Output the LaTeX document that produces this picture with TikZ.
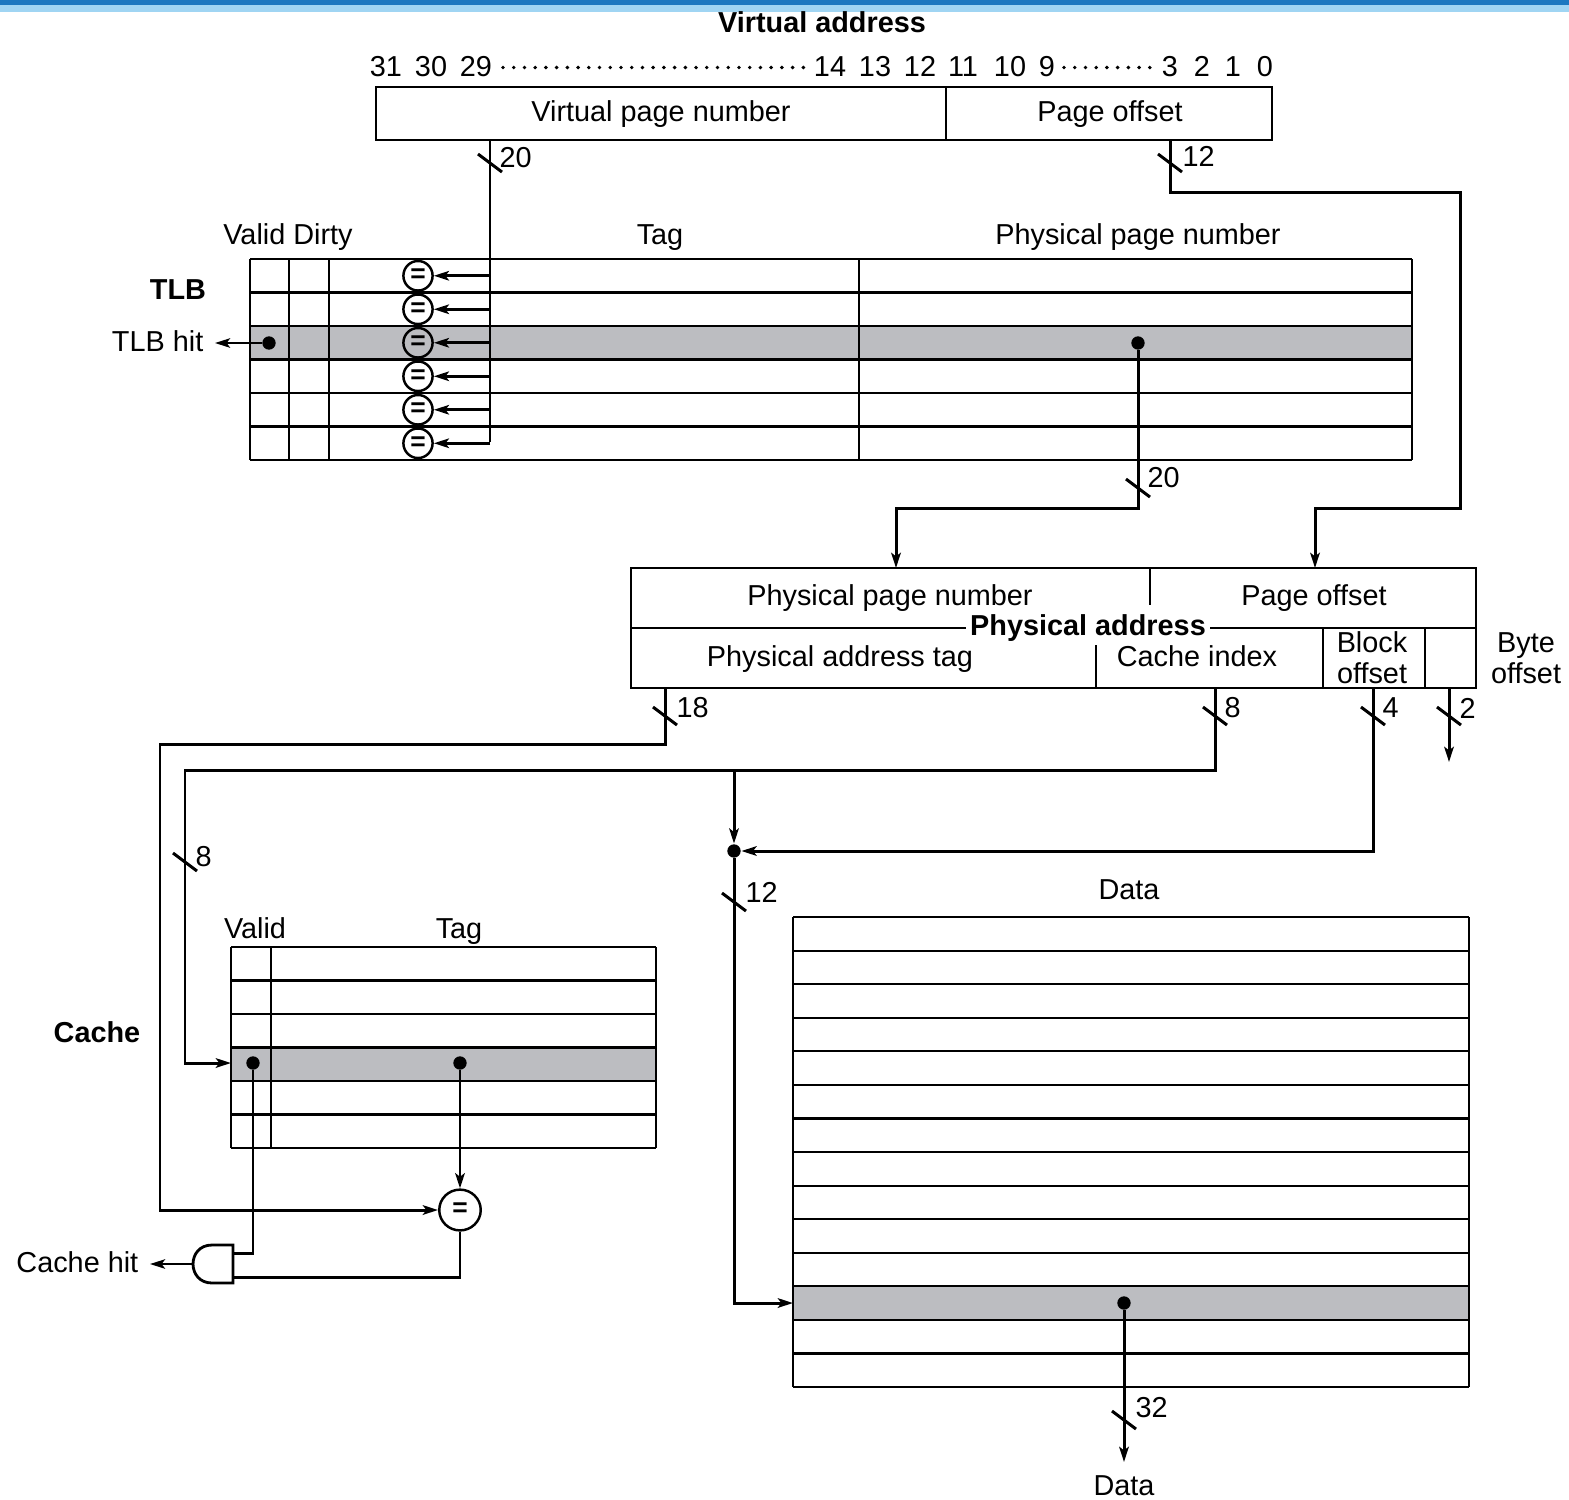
\documentclass[tikz,border=0pt]{standalone}
\usepackage{fontspec}
\setmainfont{Liberation Sans}
\usetikzlibrary{arrows.meta,calc,shapes.geometric}
\definecolor{rowgray}{RGB}{188,189,193}
\definecolor{bardark}{RGB}{28,120,192}
\definecolor{barlight}{RGB}{160,213,243}
\newcommand\lbfont{\fontsize{8.2pt}{9.8pt}\selectfont}
\newcommand\wslash[1]{\draw[wire] ($(#1)+(-12,-9)$) -- ($(#1)+(12,9)$);}
\tikzset{
  wire/.style={line width=0.85pt},
  arr/.style={wire,-{Stealth[length=4.3pt,width=2.7pt,inset=1pt]}},
  gridl/.style={line width=0.6pt},
  lbl/.style={inner sep=0pt, font=\lbfont, text height=5.9pt, text depth=0pt},
  blbl/.style={lbl, font=\lbfont\bfseries},
  dotn/.style={circle, fill, inner sep=0pt, minimum size=3.8pt},
  cmp/.style={ellipse, draw, line width=0.7pt, minimum width=8.3pt, minimum height=8.4pt, inner sep=0pt, font=\fontsize{7.5pt}{7.5pt}\selectfont\bfseries},
  bigcmp/.style={ellipse, draw, line width=0.7pt, minimum width=11.8pt, minimum height=11.6pt, inner sep=0pt, font=\fontsize{7.5pt}{7.5pt}\selectfont\bfseries},
}
\begin{document}
\begin{tikzpicture}[x=0.01cm,y=-0.01cm]
\useasboundingbox (0,0) rectangle (1569,1499);
\fill[white] (0,0) rectangle (1569,1499);
\fill[barlight] (0,0) rectangle (1569,12);
\fill[bardark] (0,0) rectangle (1569,5);

% ---------- Virtual address ----------
\node[blbl] (vatitle) at (822,22) {Virtual address};
\foreach \t/\x [count=\i] in {31/386,30/431,29/476,14/830,13/875,12/920,11/963,10/1010,9/1047,3/1170,2/1202,1/1233,0/1265}
  \node[lbl] (bit\i) at (\x,66.5) {\t};
\draw[line width=1.1pt, line cap=round, dash pattern=on 0pt off 3.05pt] (503,67.5) -- (806,67.5);
\draw[line width=1.1pt, line cap=round, dash pattern=on 0pt off 3.05pt] (1064,67.5) -- (1155,67.5);
\draw[gridl] (376,87) rectangle (1272,140);
\draw[gridl] (946,87) -- (946,140);
\node[lbl] (vpn) at (661,111) {Virtual page number};
\node[lbl] (vpo) at (1110,111) {Page offset};

\coordinate (vpnout) at (490,140);
\coordinate (vpoout) at (1170,140);

% ---------- TLB ----------
\node[lbl] (tlbvd) at (288,234) {Valid Dirty};
\node[lbl] (tlbtag) at (660,234) {Tag};
\node[lbl] (tlbppn) at (1138,234) {Physical page number};
\node[blbl] (tlbname) at (178,289) {TLB};
\fill[rowgray] (250,326) rectangle (1412,359.5);
\foreach \y in {259,292.5,326,359.5,393,426.5,460}
  \draw[gridl] (250,\y) -- (1412,\y);
\foreach \x in {250,289,329,859,1412}
  \draw[gridl] (\x,259) -- (\x,460);

\draw[wire] (vpnout) -- (490,442);
\wslash{490,163}
\node[lbl,anchor=west] (l20a) at (499,157) {20};
\foreach \y [count=\i] in {275.75,309.25,342.75,376.25,409.75,443.25}{
  \node[cmp] (c\i) at (418,\y) {=};
  \draw[arr] (490,\y) -- (c\i.east);
}

\node[dotn] (tlbvdot) at (269,343) {};
\node[lbl,anchor=east] (tlbhit) at (204,341) {TLB hit};
\draw[arr, line width=0.6pt] (tlbvdot) -- (215,343);

\node[dotn] (tlbpdot) at (1138,343) {};
\coordinate (ppnin) at (896,568);
\coordinate (poin) at (1315,568);
\draw[arr] (tlbpdot) -- (1138,508) -- (896,508) -- (ppnin);
\wslash{1138,488}
\node[lbl,anchor=west] (l20b) at (1147,477) {20};

\draw[arr] (vpoout) -- (1170,192) -- (1460,192) -- (1460,508) -- (1315,508) -- (poin);
\wslash{1170,163}
\node[lbl,anchor=west] (l12a) at (1182,156) {12};

% ---------- Physical address ----------
\draw[gridl] (631,568) rectangle (1476,688);
\draw[gridl] (631,628) -- (1476,628);
\draw[gridl] (1150,568) -- (1150,605);
\draw[gridl] (1096,645) -- (1096,688);
\draw[gridl] (1323,628) -- (1323,688);
\draw[gridl] (1425,628) -- (1425,688);
\node[lbl] (pappn) at (890,595) {Physical page number};
\node[lbl] (papo) at (1314,595) {Page offset};
\node[font=\lbfont\bfseries, fill=white, inner xsep=1.2pt, inner ysep=0.3pt] (patitle) at (1088,628.5) {Physical address};
\node[lbl] (patag) at (840,656) {Physical address tag};
\node[lbl] (paidx) at (1197,656) {Cache index};
\node[lbl] (pablk1) at (1372,642) {Block};
\node[lbl] (pablk2) at (1372,673.5) {offset};
\node[lbl] (pabyte1) at (1526,642) {Byte};
\node[lbl] (pabyte2) at (1526,673.5) {offset};

\coordinate (tagout) at (665,688);
\coordinate (idxout) at (1215,688);
\coordinate (blkout) at (1373,688);
\coordinate (byteout) at (1449,688);

% ---------- Cache ----------
\node[blbl] (cachename) at (97,1032) {Cache};
\node[lbl] (cvalid) at (255,928) {Valid};
\node[lbl] (ctag) at (459,928) {Tag};
\fill[rowgray] (231,1047.5) rectangle (656,1081);
\foreach \y in {947,980.5,1014,1047.5,1081,1114.5,1148}
  \draw[gridl] (231,\y) -- (656,\y);
\foreach \x in {231,271,656}
  \draw[gridl] (\x,947) -- (\x,1148);
\coordinate (crowin) at (231,1063);
\node[dotn] (cvdot) at (253,1063) {};
\node[dotn] (ctdot) at (460,1063) {};
\node[bigcmp] (ccmp) at (460,1210) {=};

% tag wire
\draw[arr] (tagout) -- (665,744) -- (160,744) -- (160,1210) -- (ccmp.west);
\wslash{665,716}
\node[lbl,anchor=west] (l18) at (676,707) {18};

% index wire
\draw[arr] (idxout) -- (1215,770) -- (185,770) -- (185,1063) -- (crowin);
\wslash{1215,716}
\node[lbl,anchor=west] (l8a) at (1224,707) {8};
\wslash{185,862}
\node[lbl,anchor=west] (l8b) at (195,856) {8};

\node[dotn] (jdot) at (734,851) {};
\draw[arr] (734,770) -- (jdot.north);
\draw[arr] (blkout) -- (1373,851) -- (jdot.east);
\wslash{1373,716}
\node[lbl,anchor=west] (l4) at (1382,707) {4};
\draw[arr] (byteout) -- (1449,762);
\wslash{1449,716}
\node[lbl,anchor=west] (l2) at (1459,708) {2};

% AND gate
\draw[line width=0.8pt] (233,1245) -- (212,1245) .. controls (186.7,1245) and (186.7,1283) .. (212,1283) -- (233,1283) -- cycle;
\coordinate (andin1) at (233,1253);
\coordinate (andin2) at (233,1277);
\coordinate (andout) at (193,1264);
\draw[wire] (cvdot) -- (253,1253) -- (andin1);
\draw[arr] (ctdot) -- (ccmp.north);
\draw[wire] (ccmp.south) -- (460,1277) -- (andin2);
\draw[arr, line width=0.6pt] (andout) -- (150,1264);
\node[lbl,anchor=east] (chit) at (139,1262) {Cache hit};

% ---------- Data ----------
\node[lbl] (dtitle) at (1129,889) {Data};
\fill[rowgray] (793,1287.4) rectangle (1469,1320.9);
\foreach \i in {0,...,14}
  \draw[gridl] (793,917+\i*33.571) -- (1469,917+\i*33.571);
\draw[gridl] (793,917) -- (793,1387);
\draw[gridl] (1469,917) -- (1469,1387);
\coordinate (drowin) at (793,1303);
\draw[arr] (jdot) -- (734,1303) -- (drowin);
\wslash{734,902}
\node[lbl,anchor=west] (l12b) at (745,892) {12};
\node[dotn] (ddot) at (1124,1303) {};
\node[lbl] (dout) at (1124,1485) {Data};
\draw[arr] (ddot) -- (1124,1462);
\wslash{1124,1420}
\node[lbl,anchor=west] (l32) at (1135,1407) {32};
\end{tikzpicture}
\end{document}
